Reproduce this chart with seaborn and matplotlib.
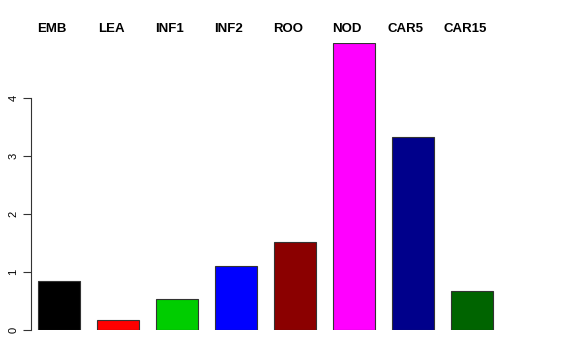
import seaborn as sns
import matplotlib
matplotlib.use("Agg")
import matplotlib.pyplot as plt
import matplotlib.transforms as mtransforms

# data
tissues = ["EMB", "LEA", "INF1", "INF2", "ROO", "NOD", "CAR5", "CAR15"]
values = [0.85, 0.18, 0.54, 1.11, 1.51, 4.95, 3.33, 0.68]
colors = ["#000000", "#FF0000", "#00CD00", "#0000FF", "#8B0000", "#FF00FF", "#00008B", "#006400"]

sns.set_style("white")
plt.rcParams["font.family"] = ["Liberation Sans", "DejaVu Sans"]
plt.rcParams["text.color"] = "black"
plt.rcParams["ytick.labelcolor"] = "black"

fig = plt.figure(figsize=(5.76, 3.6), dpi=100)
# axes placed in pixel terms: left spine at x=31, zero at y=330
ax = fig.add_axes([31 / 576, 30 / 360, (570 - 31) / 576, (330 - 43) / 360])

sns.barplot(x=list(range(len(tissues))), y=values, hue=list(range(len(tissues))),
            palette=colors, legend=False, width=0.7, edgecolor="#333333",
            linewidth=0.8, saturation=1, ax=ax, native_scale=True)

ax.set_xlim(-0.475, (570 - 59) / 59)
ax.set_ylim(0, 4.95)
ax.set_xticks([])
ax.set_yticks([0, 1, 2, 3, 4])
ax.set_yticklabels(["0", "1", "2", "3", "4"], rotation=90, va="center", fontsize=8, color="black")
ax.tick_params(axis="y", length=6, width=0.8, color="#333333", left=True, pad=3)
for s in ["top", "right", "bottom"]:
    ax.spines[s].set_visible(False)
ax.spines["left"].set_bounds(0, 4)
ax.spines["left"].set_color("#333333")
ax.spines["left"].set_linewidth(0.8)
ax.set_xlabel("")
ax.set_ylabel("")

# tissue names along the top
trans = mtransforms.blended_transform_factory(ax.transData, fig.transFigure)
for i, name in enumerate(tissues):
    ax.text(i - 0.12, 1 - 29 / 360, name, transform=trans, ha="center", va="center",
            fontsize=9.5, fontweight="bold", color="black")

fig.savefig("out.png", dpi=100)
